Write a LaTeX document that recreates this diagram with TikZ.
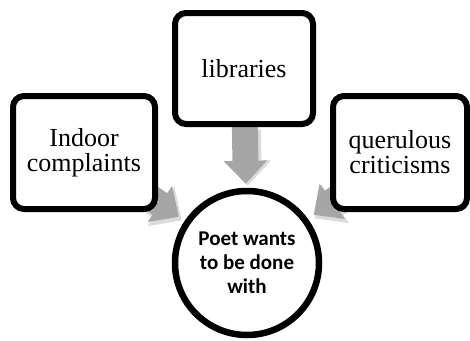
\documentclass[tikz,border=0pt]{standalone}
\usepackage{fontspec}
\setmainfont{Liberation Serif}
\newfontfamily\calib{Carlito}
\usetikzlibrary{arrows.meta,shadows,backgrounds}
\pgfdeclarelayer{bgfill}
\pgfsetlayers{bgfill,background,main}
\begin{document}
\begin{tikzpicture}[x=1pt,y=-1pt,
  boxnode/.style={draw=black, line width=6pt, fill=white, rounded corners=11pt,
    align=center, inner sep=0pt, font=\fontsize{26}{25}\selectfont,
    drop shadow={shadow xshift=2pt, shadow yshift=-2.5pt, fill=black, opacity=0.35}},
  circnode/.style={draw=black, line width=6.5pt, fill=white, circle, minimum size=144pt,
    inner sep=0pt, align=center, font=\calib\bfseries\fontsize{21}{24}\selectfont},
  blockarrow/.style={draw=black!35, line width=26pt,
    -{Triangle[width=42pt,length=23pt]}},
  arrowshadow/.style={draw=black!14, line width=28pt,
    -{Triangle[width=46pt,length=25pt]}}
]
\useasboundingbox (0,0) rectangle (470,340);
\begin{pgfonlayer}{bgfill}
\fill[white] (0,0) rectangle (470,340);
\end{pgfonlayer}
% nodes
\node[boxnode, minimum width=138pt, minimum height=111pt] (lib) at (244,68.5) {libraries};
\node[boxnode, minimum width=142pt, minimum height=113pt] (ind) at (84,152.5) {Indoor\\complaints};
\node[boxnode, minimum width=134pt, minimum height=113pt] (que) at (400,152.5) {querulous\\criticisms};
\node[circnode] (poet) at (247,263) {Poet wants\\to be done\\with};
% arrows behind nodes
\begin{pgfonlayer}{background}
\begin{scope}[transform canvas={shift={(2pt,-3pt)}}]
\draw[arrowshadow, shorten >=5pt] (lib) -- (poet);
\draw[arrowshadow, shorten >=6pt] (ind.center) -- (poet);
\draw[arrowshadow, shorten >=6pt] (que.center) -- (poet);
\end{scope}
\draw[blockarrow, shorten >=4pt] (lib) -- (poet);
\draw[blockarrow, shorten >=7pt] (ind.center) -- (poet);
\draw[blockarrow, shorten >=7pt] (que.center) -- (poet);
\end{pgfonlayer}
\end{tikzpicture}
\end{document}
